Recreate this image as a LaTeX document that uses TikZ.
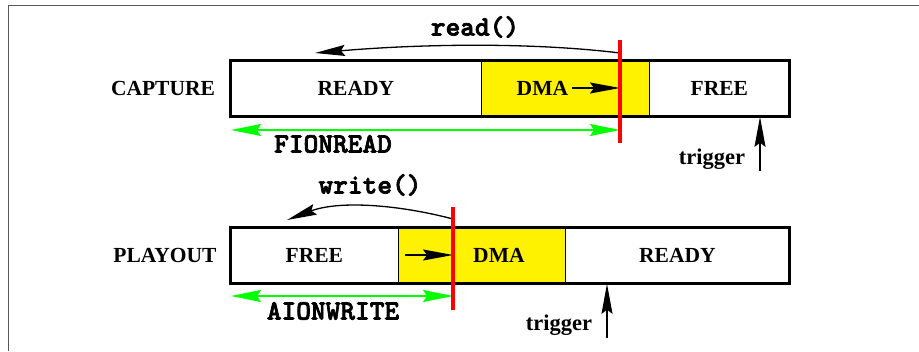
\documentclass[tikz,border=0pt]{standalone}
\usepackage{fontspec}
\setmainfont{Liberation Serif}
\newfontfamily\codefont{lmmonolt10-bold}[Extension=.otf, FakeBold=2.5]
\usetikzlibrary{arrows.meta}
\begin{document}
\begin{tikzpicture}[x=1pt,y=-1pt,
  lbl/.style={font=\fontsize{21.5}{23}\selectfont\bfseries, inner sep=0pt},
  trig/.style={font=\fontsize{22.5}{24}\selectfont\bfseries, inner sep=0pt},
  code/.style={font=\codefont\fontsize{28}{30}\selectfont, inner sep=0pt},
  seg/.style={draw=black, line width=0.8pt, inner sep=0pt, anchor=north west,
    font=\fontsize{21.5}{23}\selectfont\bfseries},
  dma/.style={seg, fill=yellow},
  outer/.style={draw=black, line width=3pt},
  conn/.style={draw=black, line width=1.3pt, -{Stealth[length=30pt,width=11pt,inset=4pt]}},
  gconn/.style={draw=green, line width=1.5pt, {Stealth[length=30pt,width=12pt,inset=4pt]}-{Stealth[length=30pt,width=12pt,inset=4pt]}},
  redline/.style={draw=red, line width=4.5pt},
  frame/.style={draw=black!65, line width=1pt}]
\useasboundingbox (0,0) rectangle (919,351);
\draw[frame] (8,351) -- (8,5) -- (919,5);

% CAPTURE
\node[lbl] (caplbl) at (163,88) {CAPTURE};
\node[seg, minimum width=251pt, minimum height=56pt] (cready) at (230,60) {READY};
\node[dma, minimum width=168pt, minimum height=56pt] (cdma) at (481,60) {\hspace*{-46pt}DMA};
\node[seg, minimum width=140pt, minimum height=56pt] (cfree) at (649,60) {FREE};
\draw[outer] (cready.north west) rectangle (cfree.south east);
\coordinate (crt) at (620,40);
\coordinate (crb) at (620,143);
\coordinate (cdmaA) at (572,88);
\coordinate (cdmaB) at (620,88);
\draw[conn] (cdmaA) -- (cdmaB);
\coordinate (readA) at (620,53);
\coordinate (readB) at (315,53);
\draw[conn] (readA) .. controls (530,42) and (420,44) .. (readB);
\node[code] (readlbl) at (475,27) {read()};
\coordinate (cgA) at (231,130);
\coordinate (cgB) at (620,130);
\draw[gconn] (cgA) -- (cgB);
\draw[redline] (crt) -- (crb);
\node[code] (fion) at (333,144) {FIONREAD};
\coordinate (ctrA) at (760,171);
\draw[conn] (ctrA) -- (ctrA |- cfree.south);
\node[trig] (ctrig) at (712,159) {trigger};

% PLAYOUT
\node[lbl] (playlbl) at (165,255) {PLAYOUT};
\node[seg, minimum width=168pt, minimum height=56pt] (pfree) at (230,227) {FREE};
\node[dma, minimum width=167pt, minimum height=56pt] (pdma) at (398,227) {\hspace*{34pt}DMA};
\node[seg, minimum width=224pt, minimum height=56pt] (pready) at (565,227) {READY};
\draw[outer] (pfree.north west) rectangle (pready.south east);
\coordinate (prt) at (453,207);
\coordinate (prb) at (453,310);
\coordinate (pdmaA) at (405,255);
\coordinate (pdmaB) at (453,255);
\draw[conn] (pdmaA) -- (pdmaB);
\coordinate (writeA) at (453,219);
\coordinate (writeB) at (287,220);
\draw[conn] (writeA) .. controls (400,205) and (340,200) .. (writeB);
\node[code] (writelbl) at (370,185) {write()};
\coordinate (pgA) at (231,296);
\coordinate (pgB) at (453,296);
\draw[gconn] (pgA) -- (pgB);
\draw[redline] (prt) -- (prb);
\node[code] (aion) at (333,311) {AIONWRITE};
\coordinate (ptrA) at (607,338);
\draw[conn] (ptrA) -- (ptrA |- pready.south);
\node[trig] (ptrig) at (559,325) {trigger};
\end{tikzpicture}
\end{document}
